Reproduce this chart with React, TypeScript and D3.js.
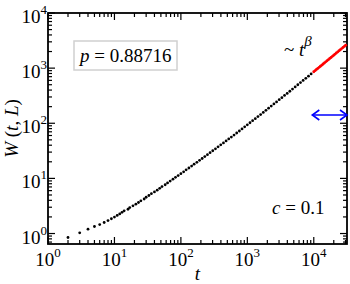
import React from "react";
import * as d3 from "d3";

// ---- data ----
const blackT = [
  2, 3, 4, 5, 6, 7, 8, 9, 10,
  11, 12, 13, 14, 16, 17, 19, 21, 23, 25, 28, 30, 33, 36, 40, 44, 48, 52, 58, 63, 69, 76, 83, 91,
  100, 110, 120, 132, 145, 158, 174, 191, 209, 229, 251, 275, 302, 331, 363, 398, 437, 479, 525, 575,
  631, 692, 759, 832, 912, 1000, 1096, 1202, 1318, 1445, 1585, 1738, 1905, 2089, 2291, 2512, 2754,
  3020, 3311, 3631, 3981, 4365, 4786, 5248, 5754, 6310, 6918, 7586, 8318, 9120,
];
const blackW = [
  0.847, 1.03, 1.197, 1.34, 1.455, 1.585, 1.718, 1.853, 1.986,
  2.128, 2.27, 2.421, 2.582, 2.754, 2.958, 3.177, 3.404, 3.656, 3.926, 4.227, 4.55, 4.898, 5.272,
  5.675, 6.124, 6.607, 7.112, 7.674, 8.279, 8.954, 9.661, 10.44, 11.27,
  12.19, 13.18, 14.29, 15.45, 16.75, 18.11, 19.59, 21.23, 22.96, 24.89, 26.92, 29.24, 31.7, 34.43,
  37.33, 40.55, 44.06, 47.75, 51.88, 56.23, 61.09, 66.53, 72.44, 79.07, 86.1, 93.76, 102.1, 111.2,
  121.3, 132.1, 143.9, 157.0, 171.8, 187.5, 205.1, 223.9, 244.3, 267.3, 291.7, 319.2, 348.3, 381.1,
  416.9, 457.1, 500.0, 547.0, 598.4, 654.6, 716.1, 785.2,
];
const redT = [
  10000, 10471, 10965, 11482, 12023, 12589, 13183, 13804, 14454, 15136, 15849, 16596, 17378,
  18197, 19055, 19953, 20893, 21878, 22909, 23988, 25119, 26303, 27542, 28840, 30200,
];
const redW = [
  859, 899.5, 941.9, 986.3, 1033, 1081, 1132, 1186, 1242, 1300, 1361, 1426, 1493, 1563, 1637,
  1714, 1795, 1879, 1968, 2061, 2158, 2259, 2366, 2477, 2594,
];
const xTickExps = [0, 1, 2, 3, 4];
const yTickExps = [0, 1, 2, 3, 4];
const pValue = "0.88716";
const cValue = "0.1";

const W = 350;
const H = 284;
const M = { left: 48, right: 347, top: 13, bottom: 244 };
const FONT = "'Liberation Serif', 'Times New Roman', serif";

export default function App() {
  const x = d3.scaleLog().domain([1, Math.pow(10, 4.5)]).range([M.left, M.right]);
  const y = d3.scaleLog().domain([Math.pow(10, -0.19), 1e4]).range([M.bottom, M.top]);

  const xMinor: number[] = [];
  for (let e = 0; e <= 4; e++) for (let k = 2; k <= 9; k++) {
    const v = k * Math.pow(10, e);
    if (v < x.domain()[1]) xMinor.push(v);
  }
  const yMinor: number[] = [];
  for (let e = -1; e <= 3; e++) for (let k = 2; k <= 9; k++) {
    const v = k * Math.pow(10, e);
    if (v > y.domain()[0] && v < 1e4) yMinor.push(v);
  }
  const maj = 7;
  const min = 4;
  const tickStroke = { stroke: "#000", strokeWidth: 1.2 };

  const black = blackT.map((t, i) => [t, blackW[i]]);
  const red = redT.map((t, i) => [t, redW[i]]);

  const ay = 115;
  const ax0 = x(9500);
  const ax1 = M.right;

  return (
    <svg width={W} height={H} style={{ position: "absolute", left: 0, top: 0 }} fontFamily={FONT}>
      <rect x={0} y={0} width={W} height={H} fill="#fff" />
      {/* ticks */}
      {xTickExps.map((e) => {
        const px = x(Math.pow(10, e));
        return (
          <g key={"xm" + e}>
            <line x1={px} x2={px} y1={M.bottom} y2={M.bottom - maj} {...tickStroke} />
            <line x1={px} x2={px} y1={M.top} y2={M.top + maj} {...tickStroke} />
          </g>
        );
      })}
      {xMinor.map((v) => {
        const px = x(v);
        return (
          <g key={"xn" + v}>
            <line x1={px} x2={px} y1={M.bottom} y2={M.bottom - min} {...tickStroke} />
            <line x1={px} x2={px} y1={M.top} y2={M.top + min} {...tickStroke} />
          </g>
        );
      })}
      {yTickExps.map((e) => {
        const py = y(Math.pow(10, e));
        return (
          <g key={"ym" + e}>
            <line x1={M.left} x2={M.left + maj} y1={py} y2={py} {...tickStroke} />
            <line x1={M.right} x2={M.right - maj} y1={py} y2={py} {...tickStroke} />
          </g>
        );
      })}
      {yMinor.map((v) => {
        const py = y(v);
        return (
          <g key={"yn" + v}>
            <line x1={M.left} x2={M.left + min} y1={py} y2={py} {...tickStroke} />
            <line x1={M.right} x2={M.right - min} y1={py} y2={py} {...tickStroke} />
          </g>
        );
      })}
      {/* frame */}
      <rect x={M.left} y={M.top} width={M.right - M.left} height={M.bottom - M.top}
        fill="none" stroke="#000" strokeWidth={1.8} />

      {/* tick labels */}
      {xTickExps.map((e) => (
        <text key={"xl" + e} x={x(Math.pow(10, e))} y={M.bottom + 22} textAnchor="middle" fontSize={19}>
          10<tspan fontSize={13} dy={-9}>{e}</tspan>
        </text>
      ))}
      {yTickExps.map((e) => (
        <text key={"yl" + e} x={M.left - 1} y={y(Math.pow(10, e)) + 10} textAnchor="end" fontSize={19}>
          10<tspan fontSize={13} dy={-9}>{e}</tspan>
        </text>
      ))}

      {/* axis titles */}
      <text x={(M.left + M.right) / 2} y={280} textAnchor="middle" fontSize={19} fontStyle="italic">t</text>
      <text transform={`translate(18,${(M.top + M.bottom) / 2}) rotate(-90)`} textAnchor="middle" fontSize={19}>
        <tspan fontStyle="italic">W</tspan> (<tspan fontStyle="italic">t</tspan>, <tspan fontStyle="italic">L</tspan>)
      </text>

      {/* data */}
      {black.map(([t, w], i) => (
        <circle key={"b" + i} cx={x(t)} cy={y(w)} r={1.4} fill="#000" />
      ))}
      {red.map(([t, w], i) => (
        <circle key={"r" + i} cx={x(t)} cy={y(w)} r={1.45} fill="#ff0000" />
      ))}

      {/* p label box */}
      <rect x={74} y={41} width={103} height={29} fill="#fff" stroke="#d0d0d0" strokeWidth={1.5} />
      <text x={80} y={62} fontSize={19}>
        <tspan fontStyle="italic">p</tspan> = {pValue}
      </text>

      {/* ~ t^beta */}
      <text x={284} y={56} fontSize={19}>
        ~ <tspan fontStyle="italic">t</tspan><tspan fontStyle="italic" fontSize={15} dy={-10}>β</tspan>
      </text>

      {/* c label */}
      <text x={272} y={214} fontSize={19}>
        <tspan fontStyle="italic">c</tspan> = {cValue}
      </text>

      {/* blue double arrow */}
      <g stroke="#0000ff" strokeWidth={1.6} fill="none">
        <line x1={ax0} x2={ax1} y1={ay} y2={ay} />
        <polyline points={`${ax0 + 7},${ay - 5} ${ax0},${ay} ${ax0 + 7},${ay + 5}`} />
        <polyline points={`${ax1 - 7},${ay - 5} ${ax1},${ay} ${ax1 - 7},${ay + 5}`} />
      </g>
    </svg>
  );
}
